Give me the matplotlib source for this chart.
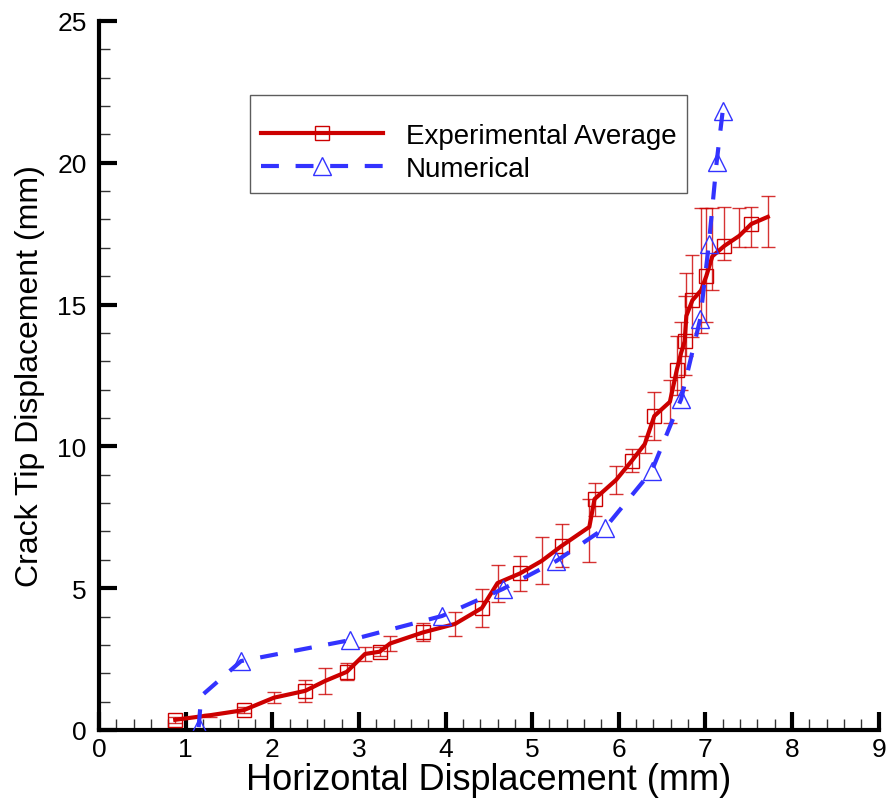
import matplotlib.pyplot as plt
from matplotlib.ticker import MultipleLocator

plt.rcParams['font.family'] = ['Liberation Sans', 'DejaVu Sans']

# Experimental average (red) with error bars
exp_x = [0.88, 1.28, 1.67, 2.02, 2.38, 2.61, 2.86, 3.07, 3.24, 3.36, 3.74, 4.11,
         4.42, 4.60, 4.86, 5.11, 5.34, 5.66, 5.72, 5.97, 6.15, 6.30, 6.41, 6.59,
         6.67, 6.72, 6.76, 6.78, 6.85, 6.95, 7.01, 7.08, 7.22, 7.39, 7.53, 7.72]
exp_y = [0.36, 0.52, 0.70, 1.14, 1.38, 1.73, 2.05, 2.68, 2.76, 3.05, 3.44, 3.74,
         4.30, 5.18, 5.52, 5.96, 6.49, 7.16, 8.14, 8.82, 9.49, 10.08, 11.07, 11.57,
         12.70, 13.30, 13.70, 14.60, 15.15, 15.50, 16.00, 16.70, 17.07, 17.42, 17.84, 18.09]
err_lo = [0.10, 0.05, 0.10, 0.20, 0.40, 0.45, 0.30, 0.25, 0.15, 0.28, 0.32, 0.42,
          0.68, 0.65, 0.63, 0.83, 0.76, 1.24, 0.60, 0.50, 0.40, 0.30, 0.83, 0.76,
          0.90, 1.30, 1.20, 1.40, 1.30, 1.50, 1.60, 1.20, 0.50, 0.40, 0.80, 1.06]
err_hi = [0.10, 0.05, 0.10, 0.20, 0.40, 0.45, 0.30, 0.25, 0.15, 0.28, 0.32, 0.42,
          0.68, 0.65, 0.63, 0.83, 0.76, 1.00, 0.57, 0.50, 0.40, 0.30, 0.83, 0.76,
          1.20, 1.10, 1.60, 1.50, 1.60, 2.90, 2.40, 1.70, 1.37, 1.00, 0.60, 0.74]

# Numerical (blue dashed)
num_x = [1.15, 1.18, 1.64, 2.90, 3.96, 4.66, 5.28, 5.84, 6.38, 6.72, 6.94, 7.04, 7.13, 7.20]
num_y = [0.10, 1.20, 2.43, 3.17, 4.02, 4.97, 5.96, 7.12, 9.13, 11.67, 14.49, 17.14, 20.03, 21.83]
num_mark = [0, 2, 3, 4, 5, 6, 7, 8, 9, 10, 11, 12, 13]

red = '#cc0000'
blue = '#3333ff'

fig = plt.figure(figsize=(8.88, 8.04), dpi=100)
ax = fig.add_axes([0.1115, 0.0908, 0.878, 0.882])

ax.errorbar(exp_x, exp_y, yerr=[err_lo, err_hi], fmt='none', ecolor=red,
            elinewidth=1.0, capsize=5, capthick=1.0, alpha=0.8, zorder=2)
ax.plot(exp_x, exp_y, color=red, lw=3, marker='s', markersize=10,
        markerfacecolor='none', markeredgecolor=red, markeredgewidth=1.0,
        markevery=2, label='Experimental Average', zorder=3)
ax.plot(num_x, num_y, color=blue, lw=3, dashes=(4.3, 4), marker='^',
        markersize=13, markerfacecolor='none', markeredgecolor=blue,
        markeredgewidth=1.0, markevery=num_mark, label='Numerical', zorder=4)

ax.set_xlim(0, 9)
ax.set_ylim(0, 25)
ax.xaxis.set_major_locator(MultipleLocator(1))
ax.xaxis.set_minor_locator(MultipleLocator(0.2))
ax.yaxis.set_major_locator(MultipleLocator(5))
ax.yaxis.set_minor_locator(MultipleLocator(1))

for s in ['top', 'right']:
    ax.spines[s].set_visible(False)
for s in ['left', 'bottom']:
    ax.spines[s].set_linewidth(3)
ax.tick_params(which='major', direction='in', length=13, width=3, labelsize=19)
ax.tick_params(axis='y', which='major', pad=9)
ax.tick_params(axis='x', which='major', pad=5)
ax.tick_params(which='minor', direction='in', length=8, width=1, color='#333333')

ax.set_xlabel('Horizontal Displacement (mm)', fontsize=26, labelpad=1)
ax.set_ylabel('Crack Tip Displacement (mm)', fontsize=23, labelpad=9)

leg = ax.legend(loc='upper left', bbox_to_anchor=(250 / 888, 1 - 96 / 804),
                bbox_transform=fig.transFigure, fontsize=20, frameon=True,
                fancybox=False, edgecolor='#333333', handlelength=4.4,
                numpoints=1, borderpad=0.4, labelspacing=0.25, handletextpad=0.8,
                borderaxespad=0, title=' ', title_fontsize=7)
leg.get_frame().set_linewidth(1.0)

fig.savefig('out.png', dpi=100)
